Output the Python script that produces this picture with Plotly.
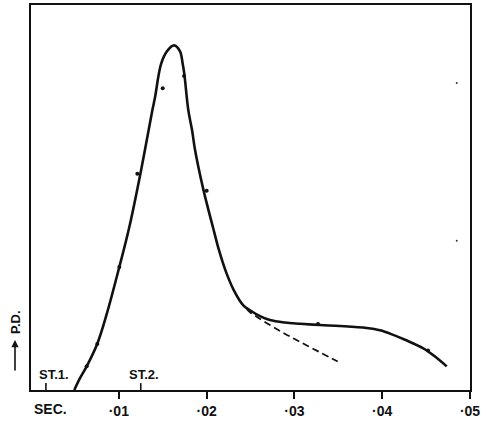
import plotly.graph_objects as go

# Time (sec) and potential difference (arbitrary units)
curve_t = [0.00493, 0.00558, 0.00634, 0.00755, 0.00862, 0.01006, 0.01116, 0.01249,
           0.01382, 0.01412, 0.01481, 0.01549, 0.01629, 0.01697, 0.01728, 0.01746,
           0.01792, 0.01834, 0.01868, 0.01962, 0.02076, 0.02141, 0.02221,
           0.02312, 0.02418, 0.02494, 0.02608, 0.02722, 0.02893, 0.03064, 0.03292,
           0.03519, 0.03823, 0.03975, 0.04126, 0.04260, 0.04468, 0.04601, 0.04735]
curve_pd = [0, 12, 24, 47, 77, 125, 164, 221,
            284, 297, 331, 344, 350, 344, 331, 321,
            284, 264, 244, 204, 164, 142, 120,
            101, 86, 81, 75, 71, 68.5, 67.3, 66,
            65, 63, 60.7, 56, 51, 42.3, 34, 24]

dash_t = [0.02456, 0.02494, 0.02836, 0.03147, 0.03493]
dash_pd = [82.3, 79, 60, 45, 29]

obs_t = [0.00634, 0.00755, 0.01006, 0.01211, 0.01500, 0.01743, 0.02001, 0.03269, 0.04522]
obs_pd = [24, 46.7, 125, 219.7, 306.5, 319, 202.3, 67, 40]

speck_t = [0.04849, 0.04849]
speck_pd = [311.7, 151.7]

tick_vals = [0.01, 0.02, 0.03, 0.04, 0.05]
tick_text = ["·01", "·02", "·03", "·04", "·05"]

stage_t = [0.0017, 0.0125]
stage_labels = ["ST.1.", "ST.2."]

FONT = "Liberation Sans"
INK = "#111111"

fig = go.Figure()
fig.add_trace(go.Scatter(x=curve_t, y=curve_pd, mode="lines",
                         line=dict(color=INK, width=2.6, shape="spline", smoothing=1.0),
                         hoverinfo="skip", showlegend=False))
fig.add_trace(go.Scatter(x=dash_t, y=dash_pd, mode="lines",
                         line=dict(color=INK, width=1.7, dash="7px,4px", shape="spline"),
                         hoverinfo="skip", showlegend=False))
fig.add_trace(go.Scatter(x=obs_t, y=obs_pd, mode="markers",
                         marker=dict(color=INK, size=4),
                         hoverinfo="skip", showlegend=False))
fig.add_trace(go.Scatter(x=speck_t, y=speck_pd, mode="markers",
                         marker=dict(color="#333333", size=2),
                         hoverinfo="skip", showlegend=False))

shapes = []
for t in stage_t:
    shapes.append(dict(type="line", xref="x", yref="y", x0=t, x1=t, y0=0, y1=7,
                       line=dict(color=INK, width=1.6)))

annotations = []
shifts = [8, 3]
for t, lab, s in zip(stage_t, stage_labels, shifts):
    annotations.append(dict(x=t, y=16, xref="x", yref="y", text=f"<b>{lab}</b>",
                            showarrow=False, xshift=s,
                            font=dict(family=FONT, size=13, color=INK)))
annotations.append(dict(x=0.0022, y=0, xref="x", yref="paper", yanchor="middle",
                        yshift=-19, text="<b>SEC.</b>",
                        showarrow=False, font=dict(family=FONT, size=14, color=INK)))
# y-axis label: "P.D." with an upward arrow beneath it
annotations.append(dict(x=0, y=0, xref="paper", yref="paper",
                        xanchor="center", yanchor="middle",
                        xshift=-16, yshift=68,
                        text="<b>P.D.</b>",
                        showarrow=False, textangle=-90,
                        font=dict(family=FONT, size=13, color=INK)))
annotations.append(dict(x=0, y=0, xref="paper", yref="paper",
                        xshift=-16, yshift=50, text="",
                        showarrow=True, arrowhead=2, arrowsize=0.9, arrowwidth=1.6,
                        arrowcolor=INK, ax=0, ay=34))

fig.update_layout(
    width=486, height=422,
    margin=dict(l=31, r=16, t=3, b=28),
    paper_bgcolor="white", plot_bgcolor="white",
    shapes=shapes, annotations=annotations,
    xaxis=dict(range=[0, 0.05], tickvals=tick_vals,
               ticktext=[f"<b>{t}</b>" for t in tick_text],
               ticks="outside", ticklen=7, tickwidth=1.6, tickcolor=INK,
               showgrid=False, zeroline=False, showline=True, linecolor=INK,
               linewidth=2, mirror=True,
               tickfont=dict(family=FONT, size=14, color=INK)),
    yaxis=dict(range=[0, 391], showticklabels=False, ticks="",
               showgrid=False, zeroline=False, showline=True, linecolor=INK,
               linewidth=2, mirror=True),
)

fig.write_html("out.html")
